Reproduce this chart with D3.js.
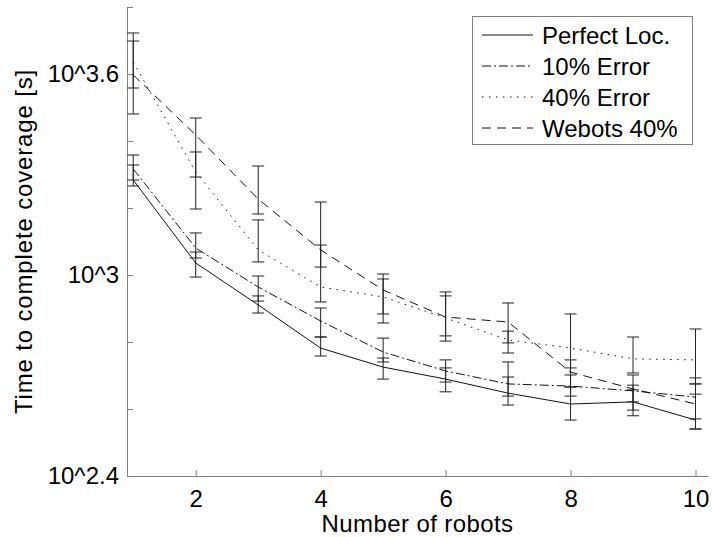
<!DOCTYPE html>
<html>
<head>
<meta charset="utf-8">
<script src="https://d3js.org/d3.v7.min.js"></script>
<style>
  body { margin: 0; background: #fff; }
  text { font-family: "Liberation Sans", Arial, Helvetica, sans-serif; fill: #000; }
</style>
</head>
<body>
<div id="chart"></div>
<script>
// number of robots
var robots = [1, 2, 3, 4, 5, 6, 7, 8, 9, 10];

// mean time to complete coverage [s], with lower / upper ends of the error bars
var perfectMean = [1921, 1086, 814, 605, 531, 489, 444, 412, 418, 369];
var perfectLo   = [1844, 986, 770, 573, 489, 448, 409, 369, 380, 347];
var perfectHi   = [2130, 1171, 866, 653, 565, 528, 496, 463, 454, 441];

var err10Mean = [2072, 1204, 921, 729, 589, 517, 473, 466, 451, 432];
var err10Lo   = [1921, 1124, 836, 653, 550, 479, 435, 435, 395, 372];
var err10Hi   = [2281, 1335, 993, 797, 648, 558, 550, 503, 469, 493];

var err40Mean = [4323, 2030, 1188, 921, 860, 744, 640, 605, 562, 558];
var err40Lo   = [3616, 1574, 1094, 831, 765, 635, 585, 528, 510, 473];
var err40Hi   = [5278, 2329, 1460, 1229, 973, 866, 680, 765, 653, 690];

var webotsMean = [3954, 2617, 1686, 1188, 902, 749, 724, 513, 457, 412];
var webotsLo   = [3024, 1961, 1521, 1056, 719, 658, 627, 463, 418, 347];
var webotsHi   = [4994, 2942, 2115, 1651, 1007, 890, 825, 558, 503, 473];

var seriesNames = ["Perfect Loc.", "10% Error", "40% Error", "Webots 40%"];
var xTicks = [2, 4, 6, 8, 10];
var yTickExps = [2.4, 2.6, 2.8, 3.0, 3.2, 3.4, 3.6, 3.8];
var yLabelExps = {"2.4": "10^2.4", "3": "10^3", "3.6": "10^3.6"};

var width = 712, height = 537;
var margin = {top: 7, right: 4, bottom: 61, left: 127};

var series = [
  {name: seriesNames[0], mean: perfectMean, lo: perfectLo, hi: perfectHi, dash: null},
  {name: seriesNames[1], mean: err10Mean, lo: err10Lo, hi: err10Hi, dash: "9,3,2,3"},
  {name: seriesNames[2], mean: err40Mean, lo: err40Lo, hi: err40Hi, dash: "1.5,5.5"},
  {name: seriesNames[3], mean: webotsMean, lo: webotsLo, hi: webotsHi, dash: "9,6"}
];

var svg = d3.select("#chart").append("svg")
    .attr("width", width)
    .attr("height", height);

var x = d3.scaleLinear()
    .domain([0.9, 10.2])
    .range([margin.left, width - margin.right]);

var y = d3.scaleLog()
    .domain([Math.pow(10, 2.4), Math.pow(10, 3.8)])
    .range([height - margin.bottom, margin.top]);

var axisColor = "#808080";

// x axis, ticks pointing inward
var xAxis = svg.append("g")
    .attr("transform", "translate(0," + (height - margin.bottom) + ")")
    .call(d3.axisBottom(x).tickValues(xTicks).tickSizeInner(-6).tickSizeOuter(0).tickPadding(14));
xAxis.select(".domain").attr("stroke", axisColor);
xAxis.selectAll(".tick line").attr("stroke", axisColor);
xAxis.selectAll(".tick text").style("font-size", "24px").attr("fill", "#000");

// y axis, log ticks every 0.2 decade, only a few labelled
var yAxis = svg.append("g")
    .attr("transform", "translate(" + margin.left + ",0)")
    .call(d3.axisLeft(y)
      .tickValues(yTickExps.map(function(e) { return Math.pow(10, e); }))
      .tickFormat(function(d) {
        var e = Math.round(Math.log10(d) * 10) / 10;
        return yLabelExps[String(e)] || "";
      })
      .tickSizeInner(-6).tickSizeOuter(0).tickPadding(8));
yAxis.select(".domain").attr("stroke", axisColor);
yAxis.selectAll(".tick line").attr("stroke", axisColor);
yAxis.selectAll(".tick text").style("font-size", "24px").attr("fill", "#000");

// axis titles
svg.append("text")
    .attr("x", (margin.left + width - margin.right) / 2)
    .attr("y", 532)
    .attr("text-anchor", "middle")
    .style("font-size", "24px")
    .style("letter-spacing", "0.4px")
    .text("Number of robots");

svg.append("text")
    .attr("transform", "translate(32," + ((margin.top + height - margin.bottom) / 2) + ") rotate(-90)")
    .attr("text-anchor", "middle")
    .style("font-size", "24px")
    .style("letter-spacing", "0.85px")
    .text("Time to complete coverage [s]");

var line = d3.line()
    .x(function(d) { return x(d[0]); })
    .y(function(d) { return y(d[1]); });

var capW = 6;

series.forEach(function(s) {
  var g = svg.append("g");

  // error bars
  var bars = g.selectAll(".bar")
    .data(robots.map(function(r, i) { return {r: r, lo: s.lo[i], hi: s.hi[i]}; }))
    .enter().append("g")
    .attr("stroke", "#222")
    .attr("stroke-width", 1);
  bars.append("line")
    .attr("x1", function(d) { return x(d.r); })
    .attr("x2", function(d) { return x(d.r); })
    .attr("y1", function(d) { return y(d.lo); })
    .attr("y2", function(d) { return y(d.hi); });
  bars.append("line")
    .attr("x1", function(d) { return x(d.r) - capW; })
    .attr("x2", function(d) { return x(d.r) + capW; })
    .attr("y1", function(d) { return y(d.lo); })
    .attr("y2", function(d) { return y(d.lo); });
  bars.append("line")
    .attr("x1", function(d) { return x(d.r) - capW; })
    .attr("x2", function(d) { return x(d.r) + capW; })
    .attr("y1", function(d) { return y(d.hi); })
    .attr("y2", function(d) { return y(d.hi); });

  g.append("path")
    .datum(robots.map(function(r, i) { return [r, s.mean[i]]; }))
    .attr("d", line)
    .attr("fill", "none")
    .attr("stroke", "#111")
    .attr("stroke-width", 1)
    .attr("stroke-dasharray", s.dash);
});

// legend
var legend = svg.append("g");
legend.append("rect")
    .attr("x", 472.5)
    .attr("y", 16.5)
    .attr("width", 220)
    .attr("height", 128)
    .attr("fill", "#fff")
    .attr("stroke", axisColor);

series.forEach(function(s, i) {
  var cy = 35 + i * 31;
  legend.append("line")
    .attr("x1", 482).attr("x2", 533)
    .attr("y1", cy).attr("y2", cy)
    .attr("stroke", "#111")
    .attr("stroke-dasharray", s.dash);
  legend.append("text")
    .attr("x", 542)
    .attr("y", cy)
    .attr("dy", "0.36em")
    .style("font-size", "24px")
    .text(s.name);
});
</script>
</body>
</html>
